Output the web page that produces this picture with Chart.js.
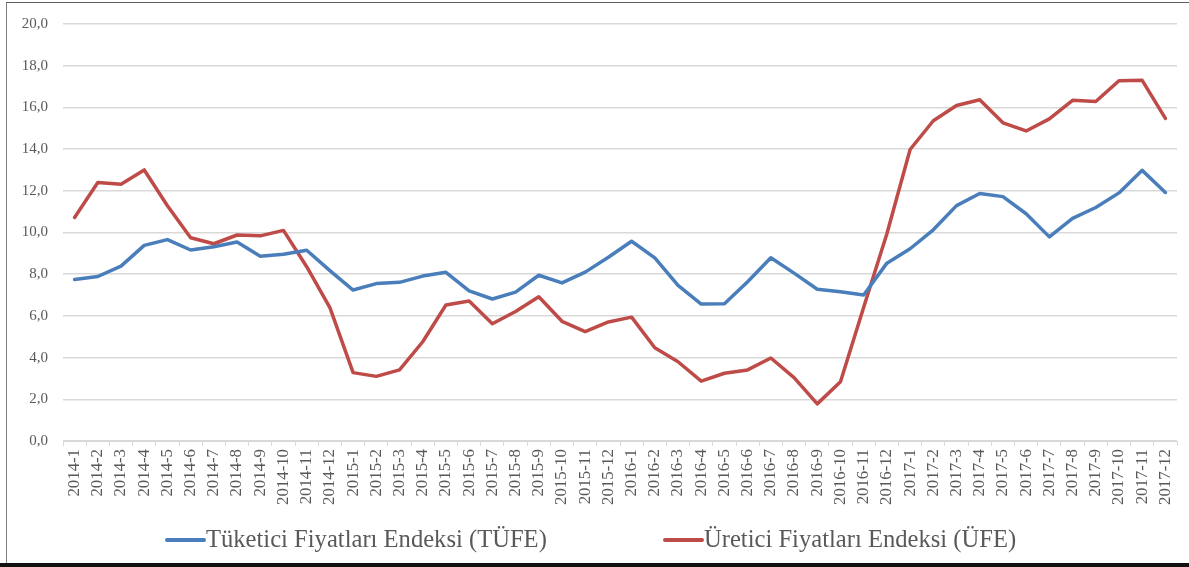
<!DOCTYPE html>
<html>
<head>
<meta charset="utf-8">
<script src="https://cdn.jsdelivr.net/npm/chart.js@4/dist/chart.umd.min.js"></script>
<style>
  html, body { margin: 0; padding: 0; background: #ffffff; }
  #wrap { position: relative; width: 1189px; height: 567px; overflow: hidden; background: #ffffff; }
  #c { position: absolute; left: 0; top: 0; }
  .bl { position: absolute; left: 6px; top: 2px; width: 1px; height: 563px; background: #808080; }
  .bt { position: absolute; left: 6px; top: 2px; width: 1183px; height: 1px; background: #606060; }
  .bb { position: absolute; left: 0; top: 563px; width: 1189px; height: 4px; background: #111111; }
</style>
</head>
<body>
<div id="wrap">
  <canvas id="c" width="1189" height="567"></canvas>
  <div class="bl"></div><div class="bt"></div><div class="bb"></div>
</div>
<script>
const categories = [
  "2014-1","2014-2","2014-3","2014-4","2014-5","2014-6","2014-7","2014-8","2014-9","2014-10","2014-11","2014-12",
  "2015-1","2015-2","2015-3","2015-4","2015-5","2015-6","2015-7","2015-8","2015-9","2015-10","2015-11","2015-12",
  "2016-1","2016-2","2016-3","2016-4","2016-5","2016-6","2016-7","2016-8","2016-9","2016-10","2016-11","2016-12",
  "2017-1","2017-2","2017-3","2017-4","2017-5","2017-6","2017-7","2017-8","2017-9","2017-10","2017-11","2017-12"
];
const tufeLabel = "Tüketici Fiyatları Endeksi (TÜFE)";
const ufeLabel = "Üretici Fiyatları Endeksi (ÜFE)";
const tufe = [
  7.75, 7.89, 8.39, 9.38, 9.66, 9.16, 9.32, 9.54, 8.86, 8.96, 9.15, 8.17,
  7.24, 7.55, 7.61, 7.91, 8.09, 7.20, 6.81, 7.14, 7.95, 7.58, 8.10, 8.81,
  9.58, 8.78, 7.46, 6.57, 6.58, 7.64, 8.79, 8.05, 7.28, 7.16, 7.00, 8.53,
  9.22, 10.13, 11.29, 11.87, 11.72, 10.90, 9.79, 10.68, 11.20, 11.90, 12.98, 11.92
];
const ufe = [
  10.72, 12.40, 12.31, 13.00, 11.28, 9.75, 9.46, 9.88, 9.84, 10.10, 8.36, 6.40,
  3.28, 3.10, 3.41, 4.76, 6.52, 6.71, 5.62, 6.21, 6.92, 5.74, 5.25, 5.71,
  5.94, 4.47, 3.80, 2.87, 3.25, 3.41, 3.98, 3.04, 1.78, 2.84, 6.41, 9.94,
  13.98, 15.36, 16.09, 16.37, 15.26, 14.87, 15.45, 16.34, 16.28, 17.28, 17.30, 15.47
];
const yMin = 0, yMax = 20, yStep = 2;

const FONT = "'Liberation Serif', 'Times New Roman', serif";
const TXT = "#595959";
const BLUE = "#4a7ebb";
const RED = "#be4b48";

const legendPlugin = {
  id: 'customLegend',
  afterDraw(chart) {
    const ctx = chart.ctx;
    const y = 540;
    const items = [
      { x: 167, ds: chart.data.datasets[0] },
      { x: 665, ds: chart.data.datasets[1] }
    ];
    ctx.save();
    ctx.font = "24.6px " + FONT;
    ctx.textBaseline = 'middle';
    ctx.textAlign = 'left';
    items.forEach(it => {
      ctx.strokeStyle = it.ds.borderColor;
      ctx.lineWidth = 4;
      ctx.lineCap = 'round';
      ctx.beginPath();
      ctx.moveTo(it.x, y);
      ctx.lineTo(it.x + 37, y);
      ctx.stroke();
      ctx.fillStyle = TXT;
      ctx.fillText(it.ds.label, it.x + 39, y + 1);
    });
    ctx.restore();
  }
};

new Chart(document.getElementById('c'), {
  type: 'line',
  data: {
    labels: categories,
    datasets: [
      { label: tufeLabel, data: tufe, borderColor: BLUE, backgroundColor: BLUE, borderWidth: 3.5, pointRadius: 0, tension: 0, borderJoinStyle: 'round', borderCapStyle: 'round' },
      { label: ufeLabel, data: ufe, borderColor: RED, backgroundColor: RED, borderWidth: 3.5, pointRadius: 0, tension: 0, borderJoinStyle: 'round', borderCapStyle: 'round' }
    ]
  },
  options: {
    responsive: false,
    animation: false,
    layout: { padding: { left: 0, right: 12, top: 23, bottom: 56 } },
    plugins: {
      legend: { display: false },
      tooltip: { enabled: false }
    },
    scales: {
      x: {
        offset: true,
        grid: { display: true, drawOnChartArea: false, drawTicks: true, tickLength: 5, color: '#d9d9d9', offset: true },
        border: { display: true, color: '#d9d9d9', width: 1 },
        ticks: {
          autoSkip: false, minRotation: 90, maxRotation: 90, padding: 3,
          color: TXT, font: { family: FONT, size: 16.8 }
        },
        afterFit(scale) { scale.height = 70; }
      },
      y: {
        min: yMin, max: yMax,
        grid: { color: '#d9d9d9', lineWidth: 1.5, drawTicks: false },
        border: { display: false },
        ticks: {
          stepSize: yStep, padding: 15, color: TXT, font: { family: FONT, size: 15 },
          callback: v => v.toFixed(1).replace('.', ',')
        },
        afterFit(scale) { scale.width = 63; }
      }
    }
  },
  plugins: [legendPlugin]
});
</script>
</body>
</html>
